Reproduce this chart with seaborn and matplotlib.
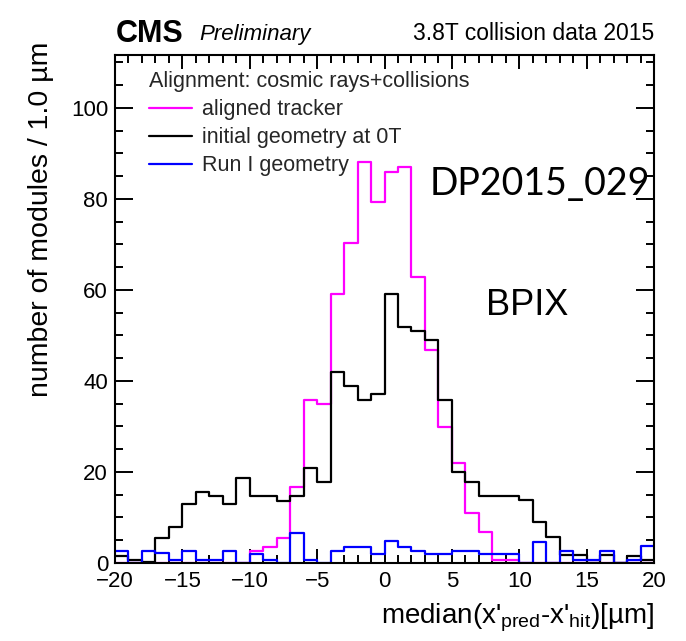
import numpy as np
import pandas as pd
import matplotlib
matplotlib.use("Agg")
import matplotlib.pyplot as plt
import seaborn as sns
from matplotlib.ticker import MultipleLocator

# 1.0 um bins from -20 to 20 um
bin_edges = np.arange(-20.0, 21.0, 1.0)
bin_centers = bin_edges[:-1] + 0.5

# modules per bin
aligned_tracker = [0, 0, 0, 0, 0, 0, 0, 0, 0, 0,
                   2.6, 3.5, 5.4, 16.7, 35.8, 35.0, 59.2, 70.2, 88.2, 79.2,
                   86.0, 87.0, 62.9, 46.8, 29.8, 22.0, 10.9, 6.8, 0.6, 0.6,
                   0, 0, 0, 0, 0, 0, 0, 0, 0, 0]
initial_geometry_0T = [1.5, 0.6, 0.3, 5.6, 7.8, 12.9, 15.7, 14.7, 12.9, 18.6,
                       14.7, 14.7, 13.7, 14.7, 20.8, 17.8, 42.0, 38.8, 35.7, 37.1,
                       59.2, 51.9, 51.0, 49.0, 35.8, 20.0, 17.8, 14.7, 14.7, 14.7,
                       13.8, 9.0, 5.8, 1.8, 1.8, 0, 1.8, 0, 1.5, 0.6]
run1_geometry = [2.6, 0, 2.6, 2.2, 0.7, 2.6, 0.6, 0.6, 2.6, 0,
                 2.0, 0.6, 0, 6.7, 0.6, 0, 2.6, 3.5, 3.5, 1.9,
                 4.8, 3.5, 2.6, 1.9, 1.9, 2.6, 2.6, 1.9, 1.9, 1.9,
                 0, 4.6, 0, 2.6, 0.6, 0.6, 2.6, 0, 0.6, 3.7]

series_values = [aligned_tracker, initial_geometry_0T, run1_geometry]
series_labels = ["aligned tracker", "initial geometry at 0T", "Run I geometry"]
series_colors = ["#ff00ff", "#000000", "#0000ff"]
legend_header = "Alignment: cosmic rays+collisions"

sns.set_theme(style="ticks")
plt.rcParams["font.family"] = ["Liberation Sans", "DejaVu Sans"]
plt.rcParams["mathtext.fontset"] = "custom"
plt.rcParams["mathtext.rm"] = "Liberation Sans"
plt.rcParams["mathtext.it"] = "Liberation Sans:italic"

W, H = 686, 641
fig = plt.figure(figsize=(W / 100, H / 100), dpi=100)
fig.patch.set_facecolor("white")
L, R, T, B = 115, 654, 55, 563
ax = fig.add_axes([L / W, 1 - B / H, (R - L) / W, (B - T) / H])
ax.set_facecolor("white")

handles = []
for vals, lab, col in zip(series_values, series_labels, series_colors):
    df = pd.DataFrame({"median": bin_centers, "modules": vals})
    n_before = len(ax.lines)
    sns.histplot(data=df, x="median", weights="modules",
                 binwidth=1.0, binrange=(bin_edges[0], bin_edges[-1]),
                 element="step", fill=False, color=col, linewidth=1.6, ax=ax)
    if len(ax.lines) > n_before:
        handles.append(ax.lines[-1])
    else:
        handles.append(plt.Line2D([], [], color=col, linewidth=1.6))

ax.set_xlim(-20, 20)
ax.set_ylim(0, 111.6)

ax.xaxis.set_major_locator(MultipleLocator(5))
ax.xaxis.set_minor_locator(MultipleLocator(1))
ax.yaxis.set_major_locator(MultipleLocator(20))
ax.yaxis.set_minor_locator(MultipleLocator(5))
ax.tick_params(which="both", direction="in", top=True, right=True,
               width=1.4, color="black", labelsize=16, labelcolor="black")
ax.tick_params(axis="x", which="major", length=10, pad=6)
ax.tick_params(axis="x", which="minor", length=5.5)
ax.tick_params(axis="y", which="major", length=13, pad=5)
ax.tick_params(axis="y", which="minor", length=6)
for sp in ax.spines.values():
    sp.set_linewidth(1.5)
    sp.set_color("black")

ax.set_xlabel(r"median(x'$_{\mathrm{pred}}$-x'$_{\mathrm{hit}}$)[µm]",
              fontsize=20, loc="right", color="black")
ax.xaxis.set_label_coords(1.0, -0.077)
ax.set_ylabel("number of modules / 1.0 µm", fontsize=20.5, loc="top", color="black")
ax.yaxis.set_label_coords(-0.113, 1.026)

leg = ax.legend(handles=handles, labels=series_labels, title=legend_header,
                loc="upper left", bbox_to_anchor=((149 - L) / (R - L), (B - 71) / (B - T)),
                frameon=False, fontsize=15.5, title_fontsize=15.5, alignment="left",
                handlelength=2.0, handletextpad=0.45, labelspacing=0.33,
                borderpad=0, borderaxespad=0)

ax.text(10.6, 56.6, "BPIX", fontsize=26, ha="center", va="center", color="black")

fig.text(116 / W, 1 - 41.5 / H, "CMS", fontsize=22, fontweight="bold",
         va="baseline", ha="left", color="black")
fig.text(199 / W, 1 - 40 / H, "Preliminary", fontsize=16, fontstyle="italic",
         va="baseline", ha="left", color="black")
fig.text(654 / W, 1 - 40 / H, "3.8T collision data 2015", fontsize=16.5,
         va="baseline", ha="right", color="black")
fig.text(430 / W, 1 - 184 / H, "DP2015_029", fontsize=27,
         family=["Lato", "DejaVu Sans"], va="center", ha="left", color="black")

fig.savefig("out.png", dpi=100, facecolor="white")
